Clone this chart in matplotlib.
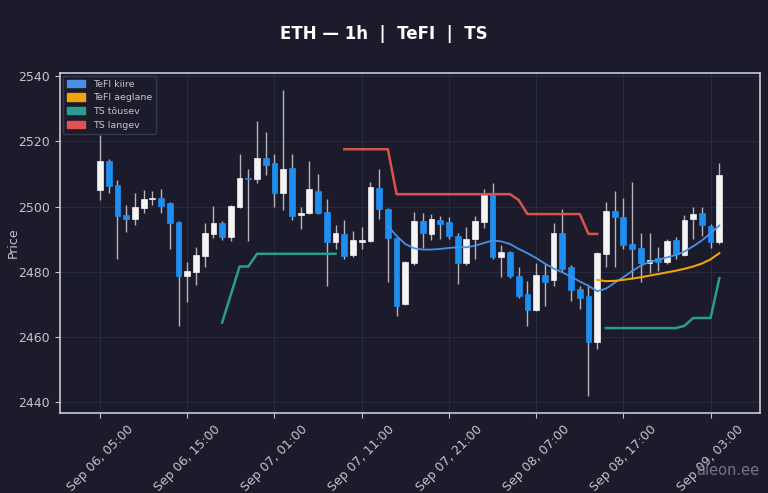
import numpy as np
import pandas as pd
import matplotlib
matplotlib.use("Agg")
import matplotlib.pyplot as plt
import matplotlib.dates as mdates
from matplotlib.patches import Patch

# hourly ETH candles, Sep 06 05:00 -> Sep 09 04:00
start = "2025-09-06 05:00"
opens = [2505.1, 2514.1, 2506.5, 2497.5, 2496.1, 2499.7, 2502.2, 2502.6, 2501.2, 2495.3,
         2478.8, 2479.9, 2484.9, 2491.6, 2494.9, 2490.8, 2500.0, 2508.6, 2508.4, 2515.0,
         2513.3, 2504.1, 2511.9, 2497.4, 2498.1, 2504.9, 2498.2, 2489.0, 2491.6, 2485.0,
         2489.1, 2489.3, 2505.6, 2499.2, 2490.3, 2470.2, 2482.6, 2495.7, 2491.6, 2495.9,
         2495.4, 2491.0, 2482.8, 2490.0, 2495.4, 2503.6, 2484.5, 2485.9, 2478.7, 2473.2,
         2468.3, 2479.1, 2477.5, 2491.8, 2481.4, 2474.7, 2472.6, 2458.3, 2485.4, 2498.7,
         2496.9, 2488.5, 2487.2, 2482.6, 2484.2, 2483.1, 2489.6, 2485.2, 2496.1, 2498.0,
         2494.1, 2489.0]
highs = [2522.0, 2514.5, 2508.2, 2500.4, 2504.3, 2505.1, 2504.9, 2505.5, 2501.5, 2495.5,
         2483.1, 2487.5, 2495.1, 2500.3, 2495.5, 2500.5, 2516.1, 2511.4, 2526.3, 2522.8,
         2516.1, 2535.9, 2516.1, 2500.0, 2514.0, 2510.0, 2502.3, 2494.4, 2496.0, 2492.6,
         2493.7, 2507.6, 2511.4, 2499.5, 2490.5, 2483.3, 2498.4, 2498.0, 2497.7, 2497.1,
         2496.8, 2492.0, 2493.7, 2497.0, 2505.3, 2507.3, 2488.2, 2486.3, 2481.4, 2477.0,
         2482.8, 2482.4, 2495.1, 2499.2, 2482.1, 2475.7, 2475.5, 2486.0, 2501.5, 2504.9,
         2502.5, 2507.6, 2492.0, 2492.0, 2487.5, 2490.0, 2490.8, 2497.4, 2499.8, 2500.0,
         2494.5, 2513.3]
lows = [2502.0, 2504.3, 2483.9, 2492.2, 2494.4, 2498.0, 2500.5, 2498.0, 2486.9, 2463.2,
        2470.6, 2476.0, 2481.4, 2490.5, 2489.8, 2489.3, 2499.7, 2489.5, 2507.1, 2509.7,
        2499.8, 2499.0, 2496.0, 2493.1, 2497.6, 2497.8, 2475.5, 2487.0, 2484.0, 2484.5,
        2486.9, 2489.0, 2496.1, 2476.7, 2466.5, 2469.8, 2482.0, 2487.2, 2489.6, 2490.0,
        2490.0, 2476.3, 2482.0, 2484.0, 2493.4, 2484.0, 2478.5, 2478.0, 2472.0, 2463.2,
        2468.0, 2469.6, 2475.7, 2480.0, 2470.9, 2468.5, 2441.8, 2456.3, 2481.4, 2481.6,
        2487.0, 2477.7, 2476.7, 2479.6, 2480.1, 2482.5, 2484.0, 2484.8, 2490.0, 2491.0,
        2487.2, 2488.5]
closes = [2514.1, 2506.3, 2497.1, 2496.1, 2500.0, 2502.4, 2502.7, 2500.3, 2494.9, 2478.8,
          2480.3, 2485.1, 2491.8, 2494.9, 2490.8, 2500.2, 2508.7, 2508.4, 2515.0, 2512.7,
          2504.1, 2511.4, 2497.1, 2498.1, 2505.4, 2498.1, 2489.1, 2491.8, 2484.9, 2489.6,
          2489.7, 2505.9, 2499.2, 2490.3, 2469.6, 2483.0, 2495.7, 2491.8, 2496.1, 2494.7,
          2491.0, 2482.8, 2490.0, 2495.7, 2503.6, 2484.5, 2485.9, 2478.7, 2472.6, 2468.3,
          2479.1, 2476.7, 2491.8, 2480.8, 2474.5, 2471.9, 2458.3, 2485.7, 2498.7, 2496.9,
          2488.2, 2486.9, 2482.8, 2483.6, 2483.1, 2489.3, 2485.5, 2495.9, 2497.7, 2494.4,
          2489.0, 2509.7]

# indicator lines (first index where each starts)
tefi_fast_start = 33
tefi_fast = [2494.0, 2491.0, 2488.5, 2487.2, 2486.8, 2486.8, 2487.0, 2487.3, 2487.5, 2487.5,
             2488.0, 2488.8, 2489.6, 2489.3, 2488.5, 2487.0, 2485.7, 2484.2, 2482.5, 2481.0,
             2479.8, 2478.5, 2477.0, 2475.7, 2474.0, 2474.8, 2476.6, 2478.3, 2480.2, 2481.9,
             2483.0, 2483.7, 2484.4, 2485.1, 2486.2, 2487.8, 2489.6, 2491.8, 2494.2]
tefi_slow_start = 57
tefi_slow = [2477.5, 2477.1, 2477.2, 2477.5, 2477.9, 2478.3, 2478.8, 2479.3, 2479.8, 2480.3,
             2480.9, 2481.6, 2482.5, 2483.8, 2485.7]
ts_up = [None] * 14 + [2464.4, 2473.0, 2481.6, 2481.6] + [2485.5] * 10 + [None] * 30 \
        + [2462.7] * 9 + [2463.4, 2465.8, 2465.8, 2465.8, 2478.0]
ts_down_start = 28
ts_down = [2517.6] * 6 + [2503.8] * 14 + [2502.0] + [2497.7] * 7 + [2491.6] * 2

BG = "#1b1b2b"
UP = "#f4f4f4"
DOWN = "#1e8ef0"
TXT = "#c4c4d0"

times = pd.date_range(start, periods=len(opens), freq="h")
x = mdates.date2num(times)
o, h, l, c = map(np.array, (opens, highs, lows, closes))


def series(vals, first):
    arr = np.full(len(x), np.nan)
    v = np.array([np.nan if a is None else a for a in vals], dtype=float)
    arr[first:first + len(v)] = v
    return arr


fig = plt.figure(figsize=(7.68, 4.93), dpi=100, facecolor=BG)
ax = fig.add_axes([0.078, 0.162, 0.912, 0.690], facecolor=BG)

w = 0.66 / 24
up = c >= o
colors = np.where(up, UP, DOWN)
ax.vlines(x, l, h, color="#b4b4bc", lw=1.0, zorder=2)
ax.bar(x, np.maximum(np.abs(c - o), 0.35), bottom=np.minimum(o, c), width=w,
       color=colors, edgecolor=colors, lw=0.5, zorder=3)

ax.plot(x, series(ts_up, 0), color="#2a9d8f", lw=1.8, zorder=4)
ax.plot(x, series(ts_down, ts_down_start), color="#d9534f", lw=1.8, zorder=4)
ax.plot(x, series(tefi_fast, tefi_fast_start), color="#4a90e2", lw=1.3, zorder=5)
ax.plot(x, series(tefi_slow, tefi_slow_start), color="#f0a30a", lw=1.5, zorder=5)

ax.set_xlim(x[0] - 4.6 / 24, x[0] + 75.7 / 24)
ax.set_ylim(2436.6, 2541)
ax.set_yticks([2440, 2460, 2480, 2500, 2520, 2540])
ax.set_xticks(x[::10])
ax.xaxis.set_major_formatter(mdates.DateFormatter("%b %d, %H:%M"))
plt.setp(ax.get_xticklabels(), rotation=45)

ax.grid(True, color="#2a2a3e", lw=0.8)
ax.set_axisbelow(True)
ax.tick_params(colors=TXT, labelsize=9)
for s in ax.spines.values():
    s.set_color("#c8c8d4")
    s.set_linewidth(1.2)
ax.set_ylabel("Price", color=TXT, fontsize=9)
ax.yaxis.set_label_coords(-0.057, 0.5)

handles = [Patch(color="#4a90e2", label="TeFI kiire"),
           Patch(color="#f0a30a", label="TeFI aeglane"),
           Patch(color="#2a9d8f", label="TS tõusev"),
           Patch(color="#e05252", label="TS langev")]
leg = ax.legend(handles=handles, loc="upper left", fontsize=6.8, frameon=True,
                facecolor=BG, edgecolor="#3a3a4e", framealpha=0.95,
                borderaxespad=0.3, handlelength=2.0, handleheight=0.8)
leg.set_zorder(10)
for t in leg.get_texts():
    t.set_color(TXT)

fig.suptitle("ETH — 1h  |  TeFI  |  TS", color="white", fontsize=12,
             fontweight="bold", y=0.949)
fig.text(0.988, 0.03, "aieon.ee", color="#8a8a9a", fontsize=10.5, ha="right",
         va="bottom", alpha=0.8)

fig.savefig("out.png", dpi=100, facecolor=BG)
